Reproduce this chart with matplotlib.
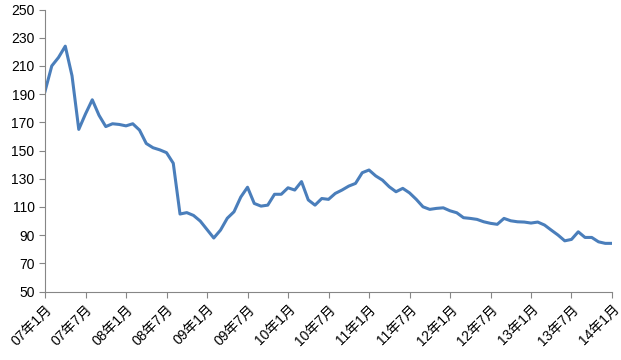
import matplotlib.pyplot as plt

plt.rcParams['font.family'] = ['Liberation Sans', 'Noto Sans CJK SC']

# monthly index values, 07-01 .. 14-01
values = [192, 210, 216, 224, 203, 165, 176, 186, 175, 167, 169, 168.5,
          167.5, 169, 164.5, 155, 152, 150.5, 148.5, 141, 105, 106, 104, 100,
          94, 88, 93.6, 102, 106.6, 117, 124, 112.5, 110.6, 111.3, 119, 119,
          123.6, 122, 128, 115, 111.3, 116, 115.4, 119.6, 122, 124.8, 126.7, 134.3,
          136.2, 132, 129, 124.3, 120.8, 123.2, 120, 115.4, 110.1, 108.3, 109, 109.4,
          107.3, 105.9, 102.4, 101.9, 101.2, 99.5, 98.4, 97.7, 101.9, 100.2, 99.5, 99.3,
          98.6, 99.3, 97.2, 93.6, 90.1, 86, 87, 92.4, 88.4, 88.4, 85.3, 84.2,
          84.2]
tick_labels = ['07年1月', '07年7月', '08年1月', '08年7月', '09年1月', '09年7月',
               '10年1月', '10年7月', '11年1月', '11年7月', '12年1月', '12年7月',
               '13年1月', '13年7月', '14年1月']

months = list(range(len(values)))

fig = plt.figure(figsize=(6.21, 3.6), dpi=100)
ax = fig.add_axes([0.0725, 0.19, 0.913, 0.7836])

ax.plot(months, values, color='#4a7ebb', linewidth=2.2, solid_joinstyle='round')

ax.set_xlim(0, 84)
ax.set_ylim(50, 250)
ax.set_yticks(range(50, 251, 20))
ax.set_xticks(range(0, 85, 6))
ax.set_xticklabels(tick_labels, rotation=45, ha='right', rotation_mode='anchor')

for s in ['top', 'right']:
    ax.spines[s].set_visible(False)
for s in ['left', 'bottom']:
    ax.spines[s].set_color('#868686')
ax.tick_params(axis='both', colors='#868686', labelcolor='black', labelsize=10,
               length=4, direction='out')

plt.savefig('out.png', dpi=100)
